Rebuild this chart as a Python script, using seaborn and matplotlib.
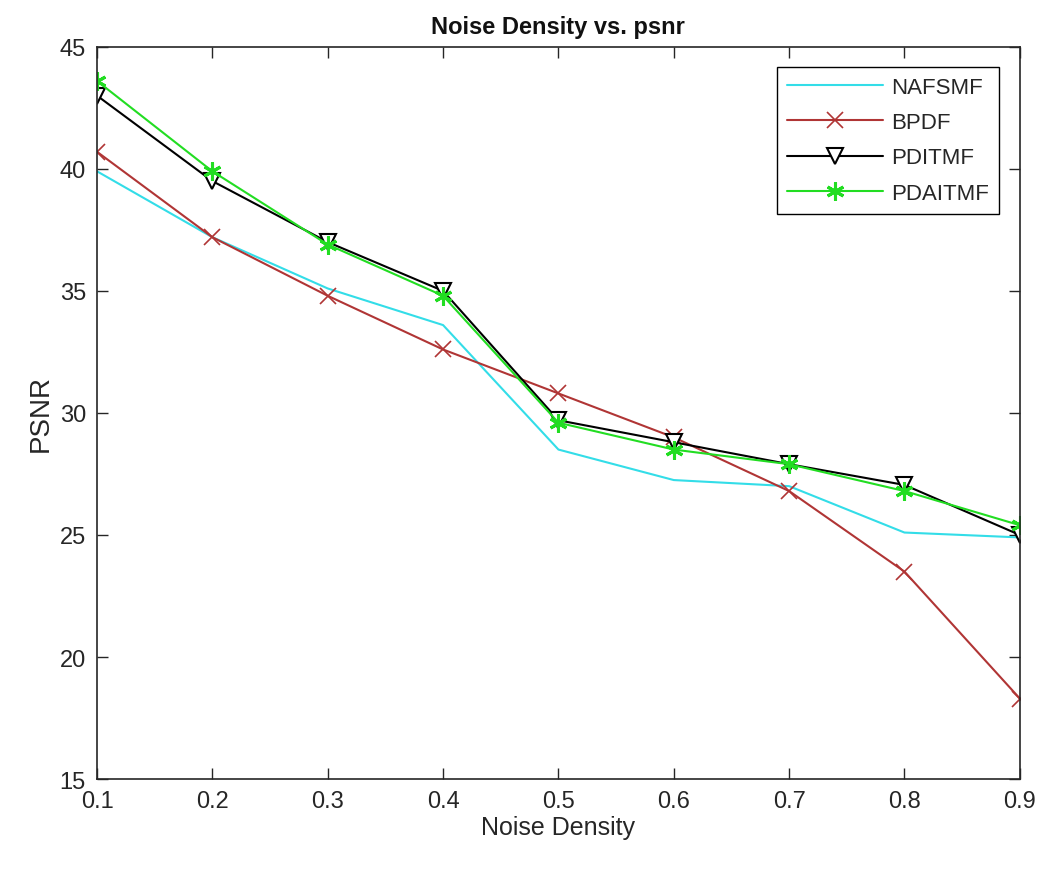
import matplotlib
matplotlib.use("Agg")
import matplotlib.pyplot as plt
import seaborn as sns
import pandas as pd

noise_density = [0.1, 0.2, 0.3, 0.4, 0.5, 0.6, 0.7, 0.8, 0.9]
nafsmf = [39.9, 37.2, 35.1, 33.6, 28.5, 27.25, 27.0, 25.1, 24.9]
bpdf = [40.7, 37.2, 34.8, 32.6, 30.8, 29.0, 26.8, 23.5, 18.3]
pditmf = [43.0, 39.5, 37.0, 35.0, 29.7, 28.8, 27.9, 27.05, 25.0]
pdaitmf = [43.6, 39.9, 36.9, 34.8, 29.6, 28.5, 27.9, 26.8, 25.4]

sns.set_theme(style="white")
plt.rcParams['font.family'] = ['Liberation Sans', 'DejaVu Sans']

fig = plt.figure(figsize=(10.48, 8.7), dpi=100)
ax = fig.add_axes([0.0926, 0.1034, 0.8805, 0.8416])

red = "#b03535"
green = "#22dd22"
series = [
    ("NAFSMF", nafsmf, "#33dde8", None, {}),
    ("BPDF", bpdf, red, "x", dict(markersize=12, markeredgewidth=1.2, markeredgecolor=red)),
    ("PDITMF", pditmf, "black", "v", dict(markersize=12, markerfacecolor="white", markeredgecolor="black", markeredgewidth=1.5)),
    ("PDAITMF", pdaitmf, green, (6, 2, 0), dict(markersize=13, markeredgecolor=green, markeredgewidth=2.2)),
]
for name, vals, color, marker, kw in series:
    df = pd.DataFrame({"x": noise_density, "y": vals})
    sns.lineplot(data=df, x="x", y="y", ax=ax, color=color, marker=marker,
                 linewidth=1.5, label=name, **kw)

ax.set_xlim(0.1, 0.9)
ax.set_ylim(15, 45)
ax.set_xticks(noise_density)
ax.set_xticklabels([f"{v:.1f}" for v in noise_density])
ax.set_yticks([15, 20, 25, 30, 35, 40, 45])
ax.tick_params(axis="both", direction="in", length=8, width=1, labelsize=17,
               top=True, right=True, bottom=True, left=True, colors="#262626", pad=8)
for s in ax.spines.values():
    s.set_color("#262626")
    s.set_linewidth(1.2)
ax.set_xlabel("Noise Density", fontsize=18, color="#262626", labelpad=2)
ax.set_ylabel("PSNR", fontsize=20, color="#262626", labelpad=4)
ax.set_title("Noise Density vs. psnr", fontsize=17, fontweight="bold", color="#111111", pad=10)

leg = ax.legend(loc="upper right", bbox_to_anchor=(0.977, 0.9726), fontsize=16,
                frameon=True, fancybox=False, edgecolor="black", framealpha=1,
                borderpad=0.45, handlelength=4.3, labelspacing=0.64, handletextpad=0.35,
                borderaxespad=0.0)
leg.get_frame().set_linewidth(1.0)

fig.savefig("out.png", dpi=100)
